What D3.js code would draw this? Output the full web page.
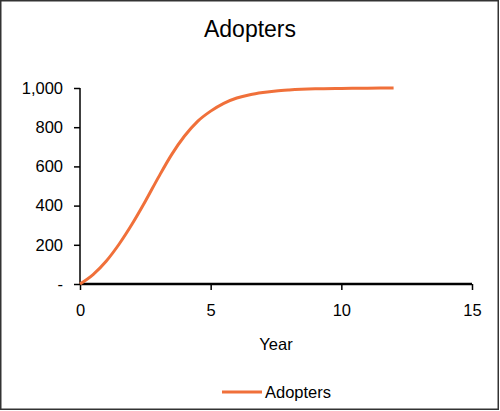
<!DOCTYPE html>
<html>
<head>
<meta charset="utf-8">
<script src="https://cdn.jsdelivr.net/npm/d3@7"></script>
<style>
  body { margin: 0; background: #fff; }
  svg text { font-family: "Liberation Sans", Arial, sans-serif; fill: #000; }
</style>
</head>
<body>
<div id="chart"></div>
<script>
// data
var years    = [0, 0.5, 1, 1.5, 2, 2.5, 3, 3.5, 4, 4.5, 5, 5.5, 6, 6.5, 7, 7.5, 8, 9, 10, 11, 12];
var adopters = [0, 48, 116, 204, 307, 422, 544, 659, 755, 830, 882, 922, 949, 966, 977, 985, 990, 996, 998, 999, 1000];
var xTicks = [0, 5, 10, 15];
var yTicks = [0, 200, 400, 600, 800, 1000];

var W = 500, H = 411;
var margin = {top: 88, right: 28, bottom: 127, left: 80},
    width = W - margin.left - margin.right,
    height = H - margin.top - margin.bottom;

var root = d3.select("#chart")
  .append("svg")
    .attr("width", W)
    .attr("height", H);

// outer frame
root.append("rect")
  .attr("x", 0.75).attr("y", 0.75)
  .attr("width", W - 2.5).attr("height", H - 2.5)
  .attr("fill", "#fff")
  .attr("stroke", "#333")
  .attr("stroke-width", 1.5);

root.append("text")
  .attr("x", 250).attr("y", 37)
  .attr("text-anchor", "middle")
  .style("font-size", "23px")
  .text("Adopters");

var svg = root.append("g")
  .attr("transform", "translate(" + margin.left + "," + margin.top + ")");

var x = d3.scaleLinear().domain([0, 15]).range([0, width]);
var y = d3.scaleLinear().domain([0, 1000]).range([height, 0]);

var fmt = function(d) { return d === 0 ? "-" : d3.format(",")(d); };

var yAxis = svg.append("g")
  .call(d3.axisLeft(y).tickValues(yTicks).tickFormat(fmt).tickSize(6).tickPadding(6));
yAxis.select(".domain").attr("stroke", "#000").attr("stroke-width", 1.5).attr("d", "M0," + height + "V0");
yAxis.selectAll(".tick line").attr("stroke", "#000").attr("stroke-width", 1.5);
yAxis.selectAll("text").style("font-size", "16.5px").attr("dx", "-5");

var xAxis = svg.append("g")
  .attr("transform", "translate(0," + height + ")")
  .call(d3.axisBottom(x).tickValues(xTicks).tickSize(6).tickPadding(14));
xAxis.select(".domain").attr("stroke", "#000").attr("stroke-width", 2.5).attr("d", "M0,0H" + width);
xAxis.selectAll(".tick line").attr("stroke", "#000").attr("stroke-width", 1.5);
xAxis.selectAll("text").style("font-size", "16.5px");

svg.append("text")
  .attr("x", x(7.5)).attr("y", height + 66)
  .attr("text-anchor", "middle")
  .style("font-size", "16.5px")
  .text("Year");

var line = d3.line()
  .x(function(d, i) { return x(years[i]); })
  .y(function(d) { return y(d); })
  .curve(d3.curveMonotoneX);

svg.append("path")
  .attr("fill", "none")
  .attr("stroke", "#f0703a")
  .attr("stroke-width", 3)
  .attr("d", line(adopters));

// legend
var lg = root.append("g").attr("transform", "translate(222,392)");
lg.append("line")
  .attr("x1", 0).attr("x2", 40)
  .attr("stroke", "#f0703a").attr("stroke-width", 3);
lg.append("text")
  .attr("x", 43).attr("y", 6)
  .style("font-size", "16.5px")
  .text("Adopters");
</script>
</body>
</html>
